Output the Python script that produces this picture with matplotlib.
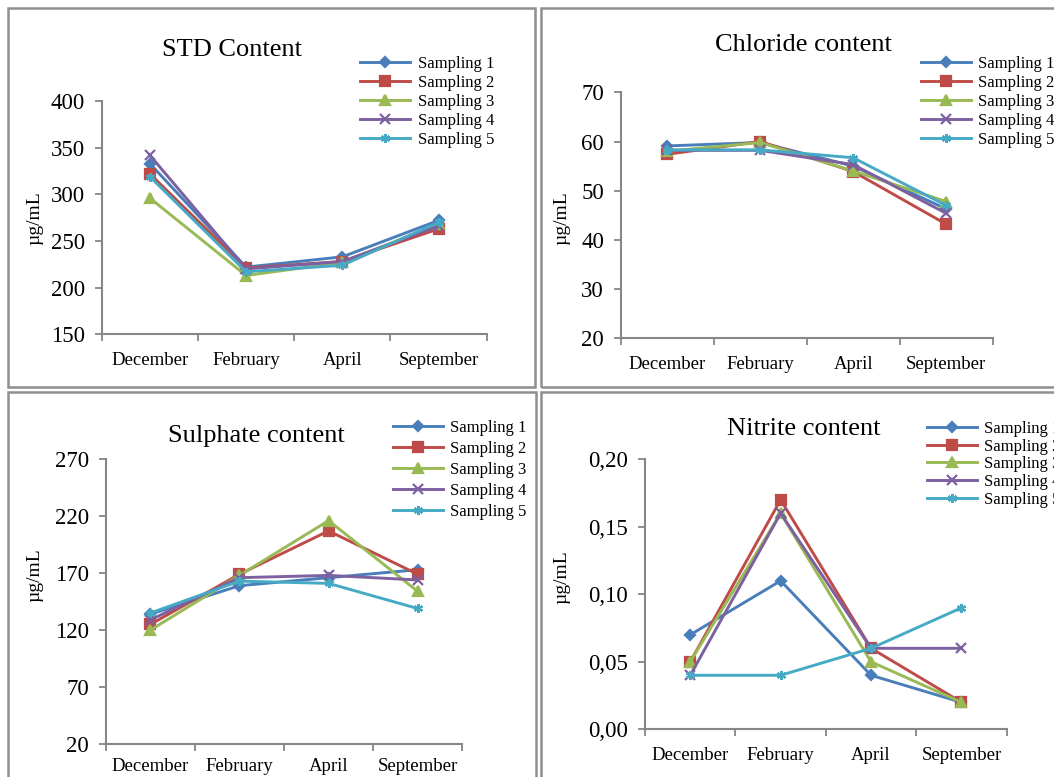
import matplotlib
matplotlib.use('Agg')
import matplotlib.pyplot as plt
from matplotlib.patches import Rectangle

plt.rcParams['font.family'] = ['Liberation Serif', 'DejaVu Serif']

W, H = 1054, 777

months = ['December', 'February', 'April', 'September']
series_names = ['Sampling 1', 'Sampling 2', 'Sampling 3', 'Sampling 4', 'Sampling 5']

# STD content, ug/mL
std_s1 = [333, 222, 233, 272]
std_s2 = [322, 221, 228, 263]
std_s3 = [296, 213, 227, 268]
std_s4 = [342, 220, 228, 266]
std_s5 = [319, 217, 224, 270]

# Chloride content
chl_s1 = [59.1, 59.8, 55.0, 46.3]
chl_s2 = [57.4, 60.0, 53.9, 43.2]
chl_s3 = [58.0, 59.8, 54.0, 47.8]
chl_s4 = [58.2, 58.2, 55.3, 45.4]
chl_s5 = [58.3, 58.3, 56.7, 47.0]

# Sulphate content
sul_s1 = [134, 159, 166, 173]
sul_s2 = [125, 169, 207, 169]
sul_s3 = [120, 168, 216, 154]
sul_s4 = [129, 166, 168, 164]
sul_s5 = [135, 163, 161, 139]

# Nitrite content
nit_s1 = [0.07, 0.11, 0.04, 0.02]
nit_s2 = [0.05, 0.17, 0.06, 0.02]
nit_s3 = [0.05, 0.16, 0.05, 0.02]
nit_s4 = [0.04, 0.16, 0.06, 0.06]
nit_s5 = [0.04, 0.04, 0.06, 0.09]

colors = ['#4A7EBB', '#BE4B48', '#98B954', '#7D60A0', '#46AAC5']
markers = ['D', 's', '^', 'x', (6, 2, 0)]
msizes = [5.5, 6.5, 7, 6.5, 6.5]

axis_grey = '#868686'


def px_axes(fig, x0, y0, x1, y1):
    return fig.add_axes([x0 / W, 1 - y1 / H, (x1 - x0) / W, (y1 - y0) / H])


def draw_panel(fig, box, series, ylim, yticks, ytick_labels, title, title_xy,
               ylabel_xy, legend_xy, legend_spacing, xpad=13):
    ax = px_axes(fig, *box)
    xs = [0.5, 1.5, 2.5, 3.5]
    for i, vals in enumerate(series):
        ax.plot(xs, vals, color=colors[i], lw=2.1, marker=markers[i],
                ms=msizes[i], mec=colors[i], mfc=colors[i], mew=1.6,
                label=series_names[i], clip_on=False)
    ax.set_xlim(0, 4)
    ax.set_ylim(*ylim)
    ax.set_xticks([0, 1, 2, 3, 4])
    ax.set_xticklabels([])
    ax.set_xticks(xs, minor=True)
    ax.set_xticklabels(months, minor=True)
    ax.tick_params(axis='x', which='major', length=5, width=1.3,
                   color=axis_grey)
    ax.tick_params(axis='x', which='minor', length=0, pad=xpad, labelsize=13.5)
    ax.set_yticks(yticks)
    ax.set_yticklabels(ytick_labels)
    ax.tick_params(axis='y', length=5, width=1.3, color=axis_grey,
                   labelsize=16.5, pad=7)
    for s in ['top', 'right']:
        ax.spines[s].set_visible(False)
    for s in ['left', 'bottom']:
        ax.spines[s].set_color(axis_grey)
        ax.spines[s].set_linewidth(1.5)
    ax.patch.set_alpha(0)

    fig.text(title_xy[0] / W, 1 - title_xy[1] / H, title, fontsize=19,
             ha='center', va='center')
    fig.text(ylabel_xy[0] / W, 1 - ylabel_xy[1] / H, 'µg/mL', fontsize=14,
             rotation=90, ha='center', va='center')
    ax.legend(loc='upper left',
              bbox_to_anchor=(legend_xy[0] / W, 1 - legend_xy[1] / H),
              bbox_transform=fig.transFigure, frameon=False, fontsize=12,
              handlelength=3.0, handletextpad=0.45, labelspacing=legend_spacing,
              borderaxespad=0, borderpad=0)
    return ax


fig = plt.figure(figsize=(W / 100, H / 100), dpi=100)

# panel frames
for (x0, y0, x1, y1) in [(8, 8, 535, 387), (541, 8, 1070, 387),
                         (8, 392, 536, 800), (541, 392, 1070, 800)]:
    fig.patches.append(Rectangle((x0 / W, 1 - y1 / H), (x1 - x0) / W,
                                 (y1 - y0) / H, transform=fig.transFigure,
                                 fill=False, ec='#8f8f8f', lw=1.8))

draw_panel(fig, (101.7, 101, 486.7, 334.3),
           [std_s1, std_s2, std_s3, std_s4, std_s5],
           (150, 400), [150, 200, 250, 300, 350, 400],
           ['150', '200', '250', '300', '350', '400'],
           'STD Content', (232, 50), (35, 218), (360, 56), 0.18)

draw_panel(fig, (620.7, 92.3, 992.7, 338.3),
           [chl_s1, chl_s2, chl_s3, chl_s4, chl_s5],
           (20, 70), [20, 30, 40, 50, 60, 70],
           ['20', '30', '40', '50', '60', '70'],
           'Chloride content', (803, 45), (562, 218), (921, 56), 0.18)

draw_panel(fig, (105.7, 459, 462.3, 744.3),
           [sul_s1, sul_s2, sul_s3, sul_s4, sul_s5],
           (20, 270), [20, 70, 120, 170, 220, 270],
           ['20', '70', '120', '170', '220', '270'],
           'Sulphate content', (256, 436), (35, 575), (393, 420), 0.30,
           xpad=10)

draw_panel(fig, (645, 459.3, 1006.7, 729.3),
           [nit_s1, nit_s2, nit_s3, nit_s4, nit_s5],
           (0, 0.2), [0, 0.05, 0.10, 0.15, 0.20],
           ['0,00', '0,05', '0,10', '0,15', '0,20'],
           'Nitrite content', (804, 429), (562, 577), (927, 421), 0.10)

fig.savefig('out.png', dpi=100)
